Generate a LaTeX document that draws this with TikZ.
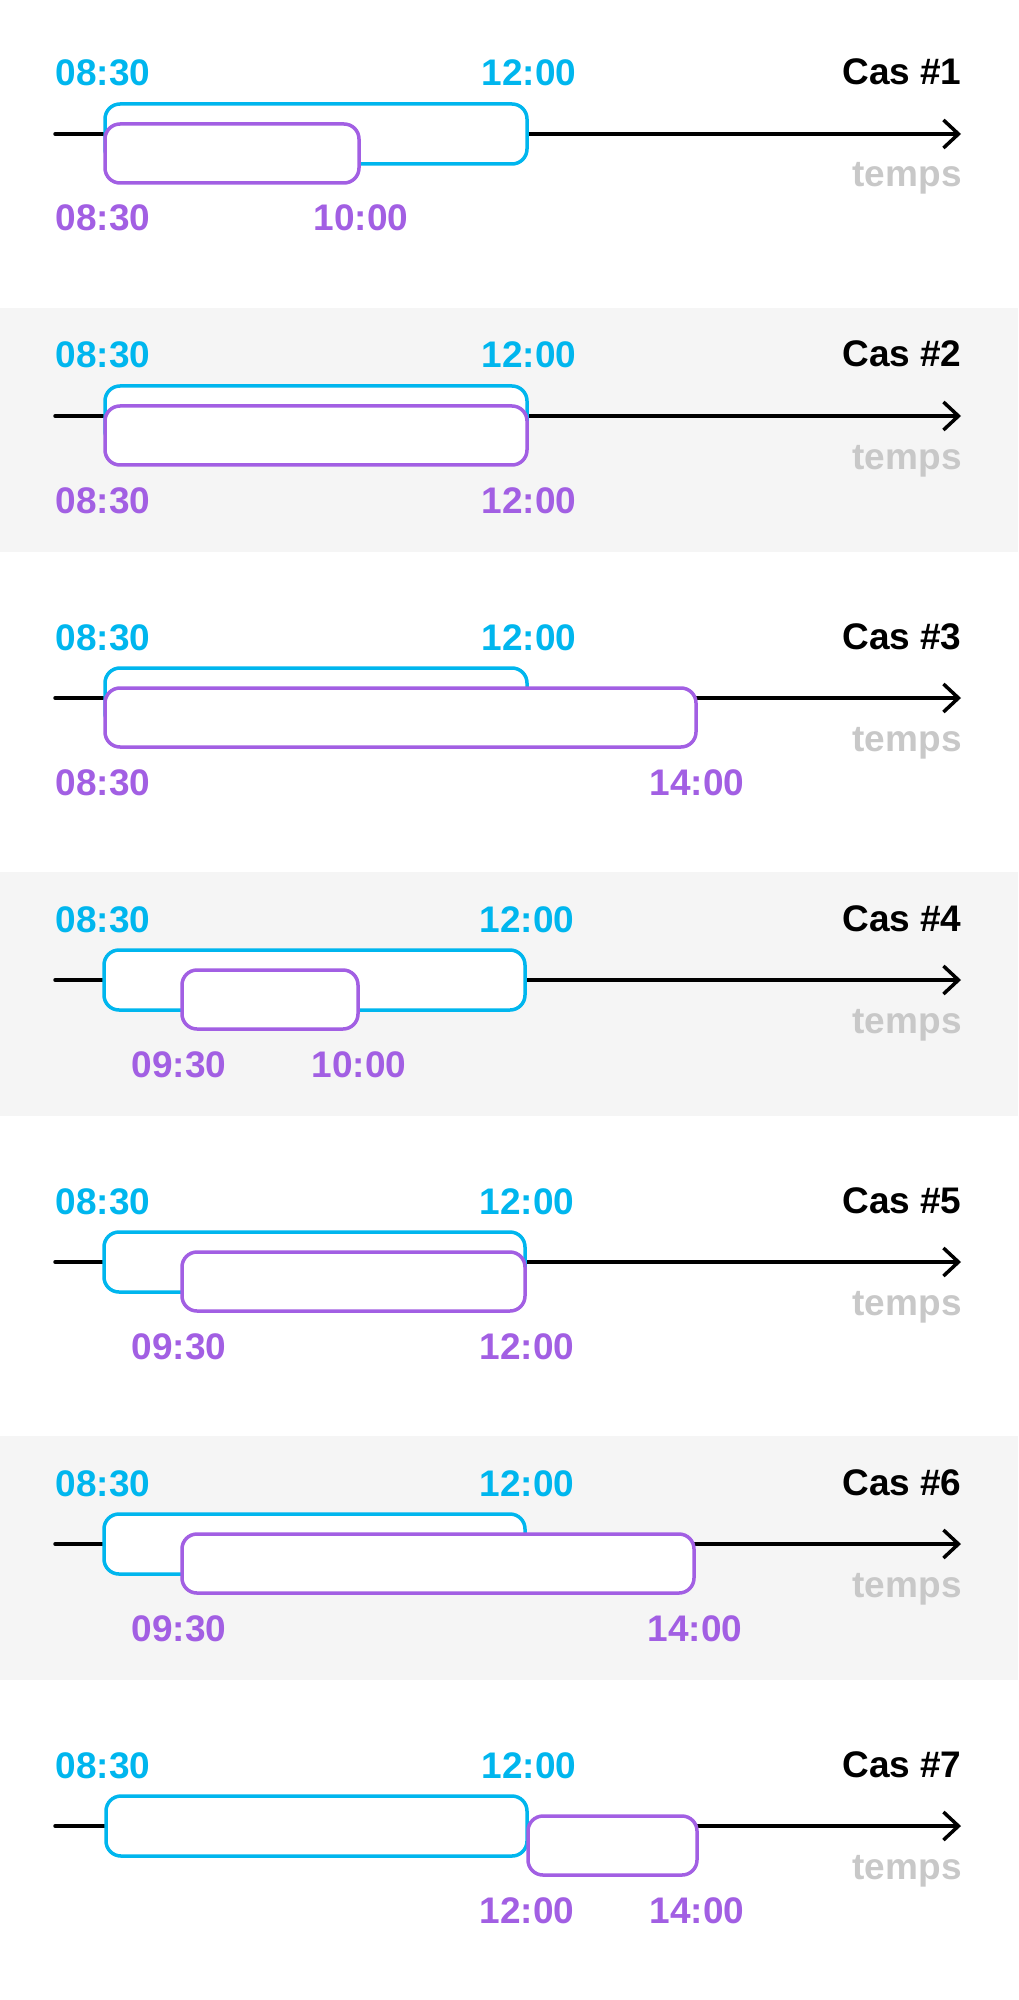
\documentclass[tikz,border=0pt]{standalone}
\usepackage{fontspec}
\setmainfont{Liberation Sans}
\usetikzlibrary{arrows.meta}

\definecolor{azul}{HTML}{00B6EE}
\definecolor{morado}{HTML}{A25FE3}
\definecolor{gris}{HTML}{C8C8C8}
\definecolor{fondo}{HTML}{F5F5F5}

\tikzset{
    eje/.style={line width=1.75pt, line cap=round, -{Straight Barb[length=7.5pt,width=14pt]}},
    cajaazul/.style={draw=azul, fill=white, line width=1.75pt, rounded corners=7.5pt},
    cajamorada/.style={draw=morado, fill=white, line width=1.75pt, rounded corners=7.5pt},
    hora/.style={font=\fontsize{18.5}{20}\selectfont\bfseries, inner sep=0pt, anchor=base},
    caso/.style={hora, anchor=base east},
    tiempo/.style={hora, anchor=base east, text=gris}
}

\begin{document}
\begin{tikzpicture}[x=0.5pt, y=-0.5pt] %Casos de solapamiento
            \useasboundingbox (0,0) rectangle (1018,2000);

            \fill[fondo] (0,308) rectangle (1018,552);
            \fill[fondo] (0,872) rectangle (1018,1116);
            \fill[fondo] (0,1436) rectangle (1018,1680);

            \begin{scope}[yshift=-67pt] %Cas 1
            \coordinate (A1) at (55,0);
            \coordinate (B1) at (961,0);
            \draw[eje] (A1) -- (B1);
            \filldraw[cajaazul] (105,-30) rectangle (527,30);
            \filldraw[cajamorada] (105,-10) rectangle (359,49);
            \node[hora, text=azul] (a1) at (103,-48) {08:30};
            \node[hora, text=azul] (b1) at (529,-48) {12:00};
            \node[hora, text=morado] (c1) at (103,97) {08:30};
            \node[hora, text=morado] (d1) at (361,97) {10:00};
            \node[caso] (cas1) at (962,-49) {Cas \#1};
            \node[tiempo] (t1) at (962,53) {temps};
            \end{scope}

            \begin{scope}[yshift=-208pt] %Cas 2
            \coordinate (A2) at (55,0);
            \coordinate (B2) at (961,0);
            \draw[eje] (A2) -- (B2);
            \filldraw[cajaazul] (105,-30) rectangle (527,30);
            \filldraw[cajamorada] (105,-10) rectangle (527,49);
            \node[hora, text=azul] (a2) at (103,-48) {08:30};
            \node[hora, text=azul] (b2) at (529,-48) {12:00};
            \node[hora, text=morado] (c2) at (103,97) {08:30};
            \node[hora, text=morado] (d2) at (529,97) {12:00};
            \node[caso] (cas2) at (962,-49) {Cas \#2};
            \node[tiempo] (t2) at (962,53) {temps};
            \end{scope}

            \begin{scope}[yshift=-349pt] %Cas 3
            \coordinate (A3) at (55,0);
            \coordinate (B3) at (961,0);
            \draw[eje] (A3) -- (B3);
            \filldraw[cajaazul] (105,-30) rectangle (527,30);
            \filldraw[cajamorada] (105,-10) rectangle (696,49);
            \node[hora, text=azul] (a3) at (103,-48) {08:30};
            \node[hora, text=azul] (b3) at (529,-48) {12:00};
            \node[hora, text=morado] (c3) at (103,97) {08:30};
            \node[hora, text=morado] (d3) at (697,97) {14:00};
            \node[caso] (cas3) at (962,-49) {Cas \#3};
            \node[tiempo] (t3) at (962,53) {temps};
            \end{scope}

            \begin{scope}[yshift=-490pt] %Cas 4
            \coordinate (A4) at (55,0);
            \coordinate (B4) at (961,0);
            \draw[eje] (A4) -- (B4);
            \filldraw[cajaazul] (104,-30) rectangle (525,30);
            \filldraw[cajamorada] (182,-10) rectangle (358,49);
            \node[hora, text=azul] (a4) at (103,-48) {08:30};
            \node[hora, text=azul] (b4) at (527,-48) {12:00};
            \node[hora, text=morado] (c4) at (179,97) {09:30};
            \node[hora, text=morado] (d4) at (359,97) {10:00};
            \node[caso] (cas4) at (962,-49) {Cas \#4};
            \node[tiempo] (t4) at (962,53) {temps};
            \end{scope}

            \begin{scope}[yshift=-631pt] %Cas 5
            \coordinate (A5) at (55,0);
            \coordinate (B5) at (961,0);
            \draw[eje] (A5) -- (B5);
            \filldraw[cajaazul] (104,-30) rectangle (525,30);
            \filldraw[cajamorada] (182,-10) rectangle (525,49);
            \node[hora, text=azul] (a5) at (103,-48) {08:30};
            \node[hora, text=azul] (b5) at (527,-48) {12:00};
            \node[hora, text=morado] (c5) at (179,97) {09:30};
            \node[hora, text=morado] (d5) at (527,97) {12:00};
            \node[caso] (cas5) at (962,-49) {Cas \#5};
            \node[tiempo] (t5) at (962,53) {temps};
            \end{scope}

            \begin{scope}[yshift=-772pt] %Cas 6
            \coordinate (A6) at (55,0);
            \coordinate (B6) at (961,0);
            \draw[eje] (A6) -- (B6);
            \filldraw[cajaazul] (104,-30) rectangle (525,30);
            \filldraw[cajamorada] (182,-10) rectangle (694,49);
            \node[hora, text=azul] (a6) at (103,-48) {08:30};
            \node[hora, text=azul] (b6) at (527,-48) {12:00};
            \node[hora, text=morado] (c6) at (179,97) {09:30};
            \node[hora, text=morado] (d6) at (695,97) {14:00};
            \node[caso] (cas6) at (962,-49) {Cas \#6};
            \node[tiempo] (t6) at (962,53) {temps};
            \end{scope}

            \begin{scope}[yshift=-913pt] %Cas 7
            \coordinate (A7) at (55,0);
            \coordinate (B7) at (961,0);
            \draw[eje] (A7) -- (B7);
            \filldraw[cajaazul] (106,-30) rectangle (527,30);
            \filldraw[cajamorada] (528,-10) rectangle (697,49);
            \node[hora, text=azul] (a7) at (103,-48) {08:30};
            \node[hora, text=azul] (b7) at (529,-48) {12:00};
            \node[hora, text=morado] (c7) at (527,97) {12:00};
            \node[hora, text=morado] (d7) at (697,97) {14:00};
            \node[caso] (cas7) at (962,-49) {Cas \#7};
            \node[tiempo] (t7) at (962,53) {temps};
            \end{scope}
        \end{tikzpicture}
\end{document}
